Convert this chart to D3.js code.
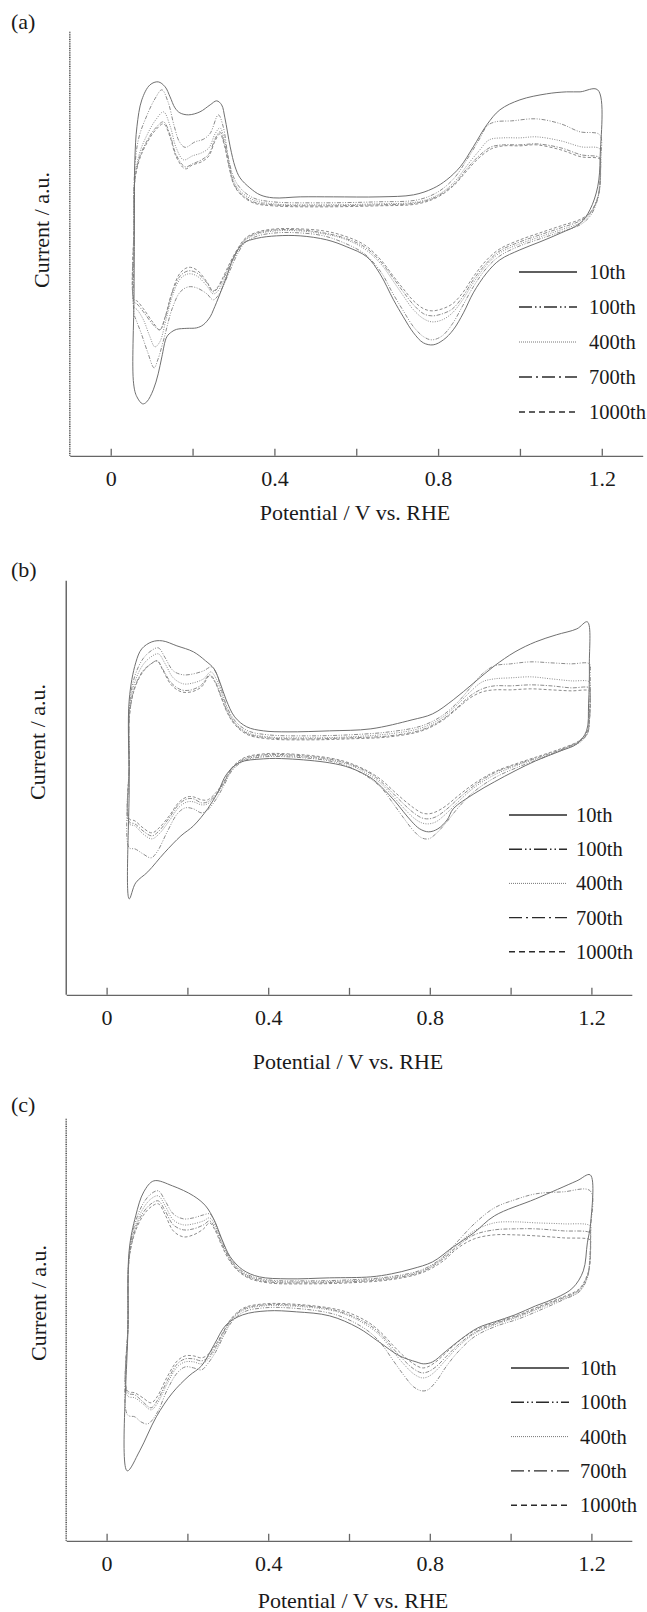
<!DOCTYPE html>
<meta charset="utf-8">
<head>
<style>
body { margin: 0; background: #fff; }
svg text { font-family: "Liberation Serif", "Times New Roman", serif; fill: #1a1a1a; }
.axis path, .axis line { fill: none; stroke: #666; stroke-width: 1.3; }
</style>
</head>
<body>
<script src="https://cdnjs.cloudflare.com/ajax/libs/d3/7.8.5/d3.min.js"></script>
<script>

// cycle names, x ticks
const cycles = ["10th", "100th", "400th", "700th", "1000th"];
const tickValues = [0, 0.2, 0.4, 0.6, 0.8, 1.0, 1.2];
const xDomain = [-0.1, 1.3];
const panelNames = ["(a)", "(b)", "(c)"];

// current in a.u., each loop = anodic sweep then cathodic sweep, [V, I]
const a10 = [[0.056,-14.0],[0.057,-4.9],[0.058,4],[0.059,8.4],[0.064,11.7],[0.076,14.4],[0.096,15.9],[0.116,16.2],[0.133,15.7],[0.145,14.7],[0.157,13.6],[0.169,13.1],[0.19,12.9],[0.218,13.2],[0.243,13.9],[0.259,14.3],[0.271,13.9],[0.279,12.6],[0.292,9.7],[0.304,7.7],[0.316,6.6],[0.34,5.6],[0.365,4.9],[0.397,4.6],[0.463,4.7],[0.544,4.7],[0.658,4.7],[0.74,4.9],[0.788,5.55],[0.821,6.4],[0.854,7.7],[0.886,9.7],[0.919,11.9],[0.951,13.4],[1.0,14.4],[1.065,15.0],[1.114,15.2],[1.147,15.2],[1.19,15.4],
  [1.196,8.7],[1.19,5.7],[1.171,3.4],[1.147,2.05],[1.098,1.05],[1.049,0.2],[1.0,-0.6],[0.951,-1.6],[0.919,-2.9],[0.886,-4.9],[0.862,-6.9],[0.837,-8.6],[0.813,-9.6],[0.788,-10.1],[0.764,-9.9],[0.74,-8.9],[0.715,-7.3],[0.691,-5.6],[0.658,-3.0],[0.626,-1.3],[0.577,-0.3],[0.528,0.4],[0.463,0.8],[0.405,0.8],[0.357,0.55],[0.324,0.05],[0.3,-1.4],[0.283,-3.3],[0.267,-5.0],[0.251,-6.6],[0.243,-7.3],[0.226,-8.1],[0.21,-8.4],[0.186,-8.45],[0.161,-8.55],[0.149,-8.8],[0.137,-9.3],[0.125,-11.3],[0.116,-13.0],[0.104,-14.6],[0.088,-15.8],[0.078,-16.0],[0.064,-15.3]];
const a100 = [[0.057,-7.0],[0.057,0],[0.058,7],[0.068,10.5],[0.088,12.8],[0.108,14.5],[0.125,15.4],[0.14,14.2],[0.155,11.8],[0.168,10.2],[0.182,9.65],[0.206,10.2],[0.226,10.45],[0.243,11.05],[0.263,12.9],[0.275,11.7],[0.287,8.7],[0.3,6.7],[0.316,5.6],[0.348,4.6],[0.397,4.2],[0.5,4.1],[0.65,4.2],[0.75,4.4],[0.8,5.2],[0.84,6.6],[0.87,8.4],[0.9,10.4],[0.92,11.8],[0.94,12.2],[0.98,12.3],[1.04,12.5],[1.1,12.0],[1.147,11.2],[1.195,10.9],
  [1.197,8.4],[1.195,5.8],[1.188,4.2],[1.172,2.8],[1.147,1.9],[1.1,1.2],[1.049,0.5],[1.0,-0.2],[0.951,-1.2],[0.919,-2.4],[0.886,-4.3],[0.86,-6.2],[0.835,-8.0],[0.81,-9.2],[0.785,-9.6],[0.765,-9.3],[0.74,-8.3],[0.715,-6.7],[0.69,-5.0],[0.66,-2.8],[0.62,-1.0],[0.57,0.1],[0.52,0.8],[0.46,1.1],[0.405,1.1],[0.36,0.8],[0.33,0.2],[0.31,-1.0],[0.29,-2.8],[0.275,-4.2],[0.26,-5.3],[0.25,-5.6],[0.235,-5.0],[0.21,-4.4],[0.19,-4.3],[0.17,-4.8],[0.15,-6.5],[0.13,-9.5],[0.115,-11.6],[0.106,-12.4],[0.09,-10.8],[0.075,-9.0],[0.062,-7.6]];
const a400 = [[0.057,-6.3],[0.057,0],[0.058,6],[0.07,9.0],[0.09,11.0],[0.11,12.4],[0.129,13.2],[0.145,11.8],[0.16,9.6],[0.178,8.4],[0.2,8.8],[0.222,9.1],[0.24,9.6],[0.255,11.0],[0.267,11.6],[0.278,10.4],[0.29,8.0],[0.3,6.3],[0.316,5.3],[0.348,4.4],[0.397,4.0],[0.5,3.9],[0.65,4.0],[0.75,4.2],[0.8,4.9],[0.84,6.2],[0.87,7.8],[0.9,9.3],[0.925,10.4],[0.96,10.6],[1.0,10.6],[1.04,10.7],[1.1,10.3],[1.15,9.7],[1.195,9.5],
  [1.197,8],[1.195,5.6],[1.188,4.3],[1.172,3.0],[1.147,2.1],[1.1,1.4],[1.049,0.7],[1.0,0.0],[0.951,-0.9],[0.919,-2.1],[0.886,-3.9],[0.86,-5.6],[0.835,-6.9],[0.81,-7.6],[0.785,-7.8],[0.765,-7.5],[0.74,-6.6],[0.715,-5.2],[0.69,-3.7],[0.66,-2.0],[0.62,-0.5],[0.57,0.5],[0.52,1.0],[0.46,1.3],[0.405,1.3],[0.36,1.0],[0.33,0.4],[0.31,-0.8],[0.29,-2.4],[0.275,-3.8],[0.26,-4.8],[0.25,-5.0],[0.235,-4.2],[0.21,-3.2],[0.19,-3.0],[0.17,-3.5],[0.15,-5.3],[0.135,-7.6],[0.12,-9.8],[0.108,-10.3],[0.095,-9.2],[0.08,-7.6],[0.065,-6.6]];
const a700 = [[0.057,-5.8],[0.057,2],[0.058,6],[0.07,8.6],[0.09,10.4],[0.11,11.6],[0.129,12.2],[0.145,10.9],[0.16,8.9],[0.182,7.7],[0.2,8.0],[0.222,8.4],[0.24,9.0],[0.255,10.5],[0.267,11.2],[0.278,10.0],[0.29,7.7],[0.3,6.1],[0.316,5.1],[0.348,4.2],[0.397,3.9],[0.5,3.8],[0.65,3.9],[0.75,4.1],[0.8,4.8],[0.84,6.0],[0.87,7.5],[0.9,8.8],[0.93,9.7],[0.96,9.9],[1.0,9.9],[1.04,10.0],[1.1,9.6],[1.15,8.9],[1.195,8.6],
  [1.197,7.5],[1.195,5.5],[1.188,4.4],[1.172,3.1],[1.147,2.3],[1.1,1.6],[1.049,0.9],[1.0,0.2],[0.951,-0.7],[0.919,-1.9],[0.886,-3.6],[0.86,-5.3],[0.835,-6.5],[0.81,-7.0],[0.785,-7.2],[0.765,-7.0],[0.74,-6.1],[0.715,-4.8],[0.69,-3.4],[0.66,-1.8],[0.62,-0.3],[0.57,0.6],[0.52,1.1],[0.46,1.4],[0.405,1.4],[0.36,1.1],[0.33,0.5],[0.31,-0.6],[0.29,-2.2],[0.275,-3.5],[0.26,-4.5],[0.25,-4.8],[0.235,-3.9],[0.21,-2.9],[0.19,-2.7],[0.17,-3.2],[0.15,-4.9],[0.133,-7.4],[0.12,-8.6],[0.104,-8.1],[0.08,-6.8],[0.064,-6.0]];
const a1000 = [[0.057,-5.6],[0.057,2],[0.058,6],[0.07,8.4],[0.09,10.2],[0.11,11.4],[0.129,12.0],[0.145,10.7],[0.16,8.7],[0.182,7.5],[0.2,7.9],[0.222,8.2],[0.24,8.8],[0.255,10.3],[0.267,11.0],[0.278,9.8],[0.29,7.5],[0.3,6.0],[0.316,5.0],[0.348,4.1],[0.397,3.8],[0.5,3.7],[0.65,3.8],[0.75,4.0],[0.8,4.7],[0.84,5.9],[0.87,7.3],[0.9,8.6],[0.93,9.5],[0.96,9.8],[1.0,9.8],[1.04,9.9],[1.1,9.4],[1.15,8.7],[1.195,8.5],
  [1.197,8.0],[1.195,6],[1.19,4.6],[1.175,3.3],[1.15,2.5],[1.1,1.8],[1.049,1.1],[1.0,0.4],[0.951,-0.5],[0.919,-1.6],[0.886,-3.3],[0.86,-4.9],[0.835,-6.0],[0.81,-6.5],[0.785,-6.7],[0.765,-6.5],[0.74,-5.7],[0.715,-4.5],[0.69,-3.2],[0.66,-1.6],[0.62,-0.1],[0.57,0.8],[0.52,1.3],[0.46,1.5],[0.405,1.5],[0.36,1.2],[0.33,0.6],[0.31,-0.5],[0.29,-2.0],[0.275,-3.3],[0.26,-4.4],[0.25,-4.7],[0.235,-3.8],[0.21,-2.6],[0.19,-2.35],[0.169,-2.95],[0.149,-4.95],[0.133,-7.3],[0.12,-8.6],[0.104,-7.9],[0.08,-6.5],[0.064,-5.7]];

const b10 = [[0.056,-11.5],[0.056,0],[0.056,8.4],[0.072,12.1],[0.087,13.5],[0.112,14.2],[0.138,14.3],[0.174,13.8],[0.215,13.2],[0.245,12.3],[0.266,11.5],[0.281,10.1],[0.296,8.4],[0.317,6.7],[0.347,5.7],[0.388,5.3],[0.449,5.2],[0.552,5.3],[0.654,5.5],[0.756,6.4],[0.807,7.0],[0.858,8.4],[0.909,10.1],[0.96,11.8],[1.011,13.2],[1.062,14.2],[1.113,14.9],[1.164,15.5],[1.19,16.2],
  [1.195,12],[1.193,8],[1.188,5.3],[1.164,4.0],[1.124,3.3],[1.062,2.3],[1.011,1.3],[0.96,0.2],[0.909,-1.0],[0.858,-2.5],[0.843,-3.6],[0.82,-4.5],[0.797,-4.8],[0.775,-4.5],[0.756,-3.8],[0.735,-2.8],[0.715,-1.8],[0.68,-0.3],[0.654,0.6],[0.603,1.6],[0.552,2.1],[0.449,2.5],[0.388,2.5],[0.327,2.1],[0.296,0.9],[0.276,-0.8],[0.25,-2.5],[0.215,-4.2],[0.184,-5.2],[0.143,-6.9],[0.102,-8.8],[0.072,-9.9]];
const b100 = [[0.056,-6.4],[0.056,2],[0.057,8],[0.07,10.8],[0.09,12.5],[0.11,13.3],[0.128,13.6],[0.145,12.6],[0.165,11.3],[0.19,10.9],[0.215,11.0],[0.24,11.3],[0.26,11.7],[0.272,11.0],[0.285,9.3],[0.3,7.5],[0.32,6.2],[0.35,5.3],[0.4,4.9],[0.5,4.8],[0.6,4.9],[0.7,5.2],[0.78,5.8],[0.83,6.8],[0.87,8.2],[0.9,9.6],[0.93,11.0],[0.96,11.8],[1.0,12.0],[1.05,12.2],[1.1,12.1],[1.15,12.0],[1.195,12.0],
  [1.197,11],[1.195,7],[1.19,5.3],[1.17,4.3],[1.13,3.5],[1.08,2.6],[1.02,1.7],[0.96,0.6],[0.909,-0.8],[0.87,-2.4],[0.84,-3.9],[0.815,-5.0],[0.797,-5.5],[0.78,-5.4],[0.76,-4.7],[0.735,-3.4],[0.71,-2.0],[0.68,-0.4],[0.65,0.6],[0.6,1.7],[0.55,2.3],[0.45,2.7],[0.39,2.7],[0.34,2.3],[0.31,1.3],[0.29,-0.2],[0.27,-1.6],[0.25,-2.6],[0.235,-2.9],[0.215,-2.5],[0.195,-2.4],[0.175,-3.0],[0.15,-4.8],[0.125,-6.8],[0.11,-7.4],[0.09,-7.0],[0.07,-6.5]];
const b400 = [[0.056,-4.0],[0.056,2],[0.057,7.5],[0.07,10.2],[0.09,11.9],[0.11,12.7],[0.128,13.0],[0.145,12.0],[0.165,10.6],[0.19,10.0],[0.215,10.1],[0.24,10.5],[0.258,11.2],[0.27,10.6],[0.285,9.0],[0.3,7.3],[0.32,6.0],[0.35,5.1],[0.4,4.7],[0.5,4.6],[0.6,4.7],[0.7,5.0],[0.78,5.6],[0.83,6.6],[0.87,8.0],[0.9,9.2],[0.93,10.2],[0.96,10.5],[1.0,10.6],[1.05,10.7],[1.1,10.5],[1.15,10.3],[1.195,10.2],
  [1.197,9.5],[1.195,6.5],[1.19,5.0],[1.17,4.1],[1.13,3.4],[1.08,2.7],[1.02,1.9],[0.96,0.9],[0.909,-0.4],[0.87,-1.8],[0.84,-3.0],[0.815,-3.8],[0.797,-4.0],[0.78,-3.9],[0.76,-3.4],[0.735,-2.4],[0.71,-1.3],[0.68,0.0],[0.65,0.9],[0.6,1.9],[0.55,2.4],[0.45,2.8],[0.39,2.8],[0.34,2.4],[0.31,1.4],[0.29,0.0],[0.27,-1.2],[0.25,-2.0],[0.235,-2.1],[0.215,-1.8],[0.2,-1.8],[0.18,-2.3],[0.155,-3.7],[0.13,-5.0],[0.112,-5.5],[0.09,-5.0],[0.07,-4.2]];
const b700 = [[0.056,-3.8],[0.056,2],[0.057,7],[0.07,9.7],[0.09,11.3],[0.11,12.0],[0.125,12.3],[0.14,11.4],[0.16,10.1],[0.185,9.4],[0.21,9.4],[0.235,9.9],[0.255,10.9],[0.268,10.3],[0.283,8.8],[0.3,7.1],[0.32,5.9],[0.35,5.0],[0.4,4.6],[0.5,4.5],[0.6,4.6],[0.7,4.8],[0.78,5.4],[0.83,6.4],[0.87,7.7],[0.9,8.8],[0.93,9.5],[0.96,9.8],[1.0,9.8],[1.05,9.9],[1.1,9.8],[1.15,9.6],[1.195,9.6],
  [1.197,9],[1.195,6.3],[1.19,5.0],[1.17,4.2],[1.13,3.5],[1.08,2.8],[1.02,2.0],[0.96,1.1],[0.909,-0.2],[0.87,-1.5],[0.84,-2.6],[0.815,-3.3],[0.797,-3.5],[0.78,-3.4],[0.76,-2.9],[0.735,-2.0],[0.71,-1.0],[0.68,0.2],[0.65,1.1],[0.6,2.0],[0.55,2.5],[0.45,2.9],[0.39,2.9],[0.34,2.5],[0.31,1.5],[0.29,0.1],[0.27,-1.1],[0.25,-1.8],[0.235,-1.9],[0.215,-1.5],[0.2,-1.5],[0.18,-2.0],[0.155,-3.4],[0.13,-4.7],[0.112,-5.2],[0.09,-4.7],[0.07,-4.0]];
const b1000 = [[0.056,-3.5],[0.056,2],[0.057,7],[0.07,9.6],[0.09,11.2],[0.11,12.0],[0.125,12.3],[0.14,11.3],[0.16,9.9],[0.185,9.2],[0.21,9.2],[0.235,9.7],[0.255,10.8],[0.268,10.2],[0.283,8.7],[0.3,7.0],[0.32,5.8],[0.35,4.9],[0.4,4.5],[0.5,4.4],[0.6,4.5],[0.7,4.7],[0.78,5.3],[0.83,6.3],[0.87,7.6],[0.9,8.6],[0.93,9.2],[0.96,9.4],[1.0,9.4],[1.05,9.5],[1.1,9.4],[1.15,9.3],[1.195,9.3],
  [1.197,8.8],[1.195,6.2],[1.19,5.1],[1.17,4.3],[1.13,3.6],[1.08,2.9],[1.02,2.1],[0.96,1.2],[0.909,0.0],[0.87,-1.2],[0.84,-2.2],[0.815,-2.8],[0.797,-3.0],[0.78,-2.9],[0.76,-2.4],[0.735,-1.6],[0.71,-0.7],[0.68,0.4],[0.65,1.2],[0.6,2.1],[0.55,2.6],[0.45,3.0],[0.39,3.0],[0.34,2.6],[0.31,1.6],[0.29,0.2],[0.27,-0.9],[0.25,-1.6],[0.235,-1.6],[0.215,-1.3],[0.2,-1.3],[0.18,-1.8],[0.155,-3.2],[0.13,-4.4],[0.112,-4.9],[0.09,-4.4],[0.07,-3.7]];

const c10 = [[0.051,-14.7],[0.053,0],[0.056,7.4],[0.072,10.8],[0.092,13.2],[0.117,14.3],[0.163,13.8],[0.215,12.8],[0.245,11.8],[0.266,10.4],[0.286,8.4],[0.306,6.7],[0.337,5.4],[0.378,4.7],[0.449,4.5],[0.552,4.6],[0.654,4.7],[0.705,5.0],[0.756,5.5],[0.807,6.2],[0.858,7.7],[0.909,9.1],[0.96,10.8],[1.062,12.5],[1.164,14.3],[1.197,14.9],
  [1.198,10],[1.19,8.1],[1.18,5.3],[1.154,3.6],[1.113,2.6],[1.062,1.8],[1.011,0.9],[0.96,0.2],[0.919,-0.4],[0.878,-1.5],[0.838,-2.8],[0.807,-3.8],[0.785,-4.0],[0.766,-3.8],[0.725,-3.2],[0.674,-1.8],[0.623,-0.4],[0.552,0.8],[0.47,1.2],[0.398,1.3],[0.337,0.9],[0.296,-0.1],[0.266,-2.1],[0.235,-4.2],[0.204,-5.2],[0.163,-6.9],[0.123,-9.3],[0.082,-12.7]];
const c100 = [[0.052,-9.1],[0.053,0],[0.056,7],[0.07,10.0],[0.09,12.0],[0.11,13.0],[0.128,13.3],[0.145,12.3],[0.165,11.0],[0.19,10.5],[0.215,10.6],[0.24,10.9],[0.255,11.0],[0.268,10.2],[0.283,8.6],[0.3,7.0],[0.32,5.8],[0.35,4.9],[0.4,4.4],[0.5,4.3],[0.6,4.4],[0.7,4.7],[0.78,5.4],[0.83,6.6],[0.87,8.3],[0.91,10.0],[0.96,11.6],[1.01,12.4],[1.062,13.0],[1.13,13.2],[1.197,13.3],
  [1.198,9.5],[1.196,6.5],[1.19,4.6],[1.17,3.2],[1.13,2.4],[1.08,1.5],[1.02,0.5],[0.96,-0.3],[0.91,-1.3],[0.87,-2.8],[0.84,-4.3],[0.815,-5.8],[0.795,-6.6],[0.78,-6.7],[0.76,-6.3],[0.735,-5.1],[0.71,-3.7],[0.68,-2.0],[0.65,-0.8],[0.6,0.4],[0.55,1.1],[0.45,1.6],[0.39,1.6],[0.34,1.2],[0.31,0.2],[0.29,-1.2],[0.27,-2.8],[0.25,-4.0],[0.235,-4.6],[0.215,-4.4],[0.195,-4.3],[0.175,-4.9],[0.15,-6.6],[0.125,-8.9],[0.102,-10.0],[0.085,-9.8],[0.07,-9.3]];
const c400 = [[0.052,-7.2],[0.053,0],[0.056,6.8],[0.07,9.6],[0.09,11.5],[0.11,12.5],[0.128,12.8],[0.145,11.8],[0.165,10.4],[0.19,9.9],[0.215,10.0],[0.24,10.3],[0.255,10.6],[0.268,9.9],[0.283,8.4],[0.3,6.9],[0.32,5.7],[0.35,4.8],[0.4,4.3],[0.5,4.2],[0.6,4.3],[0.7,4.6],[0.78,5.3],[0.83,6.5],[0.87,8.0],[0.91,9.3],[0.96,10.1],[1.01,10.2],[1.062,10.1],[1.13,10.0],[1.197,9.8],
  [1.198,9],[1.196,6.3],[1.19,4.7],[1.17,3.3],[1.13,2.5],[1.08,1.7],[1.02,0.7],[0.96,-0.1],[0.91,-1.0],[0.87,-2.3],[0.84,-3.6],[0.815,-4.7],[0.795,-5.3],[0.78,-5.4],[0.76,-5.0],[0.735,-4.0],[0.71,-2.8],[0.68,-1.3],[0.65,-0.3],[0.6,0.8],[0.55,1.4],[0.45,1.8],[0.39,1.8],[0.34,1.4],[0.31,0.4],[0.29,-1.0],[0.27,-2.5],[0.25,-3.6],[0.235,-4.0],[0.215,-3.8],[0.195,-3.8],[0.175,-4.3],[0.15,-6.0],[0.125,-8.0],[0.11,-8.6],[0.09,-8.0],[0.07,-7.4]];
const c700 = [[0.052,-6.9],[0.053,0],[0.056,6.6],[0.07,9.3],[0.09,11.1],[0.11,12.0],[0.128,12.3],[0.145,11.3],[0.165,9.9],[0.19,9.4],[0.215,9.5],[0.24,9.9],[0.255,10.3],[0.268,9.6],[0.283,8.2],[0.3,6.8],[0.32,5.6],[0.35,4.7],[0.4,4.2],[0.5,4.1],[0.6,4.2],[0.7,4.5],[0.78,5.2],[0.83,6.4],[0.87,7.8],[0.91,8.9],[0.96,9.4],[1.01,9.5],[1.062,9.5],[1.13,9.3],[1.197,9.1],
  [1.198,8.6],[1.196,6.1],[1.19,4.8],[1.17,3.4],[1.13,2.6],[1.08,1.8],[1.02,0.8],[0.96,0.0],[0.91,-0.9],[0.87,-2.1],[0.84,-3.3],[0.815,-4.3],[0.795,-4.8],[0.78,-4.9],[0.76,-4.5],[0.735,-3.6],[0.71,-2.5],[0.68,-1.1],[0.65,-0.1],[0.6,0.9],[0.55,1.5],[0.45,1.9],[0.39,1.9],[0.34,1.5],[0.31,0.5],[0.29,-0.8],[0.27,-2.3],[0.25,-3.4],[0.235,-3.7],[0.215,-3.5],[0.195,-3.5],[0.175,-4.0],[0.15,-5.7],[0.125,-7.7],[0.11,-8.4],[0.09,-7.8],[0.07,-7.1]];
const c1000 = [[0.052,-6.7],[0.053,0],[0.056,6.5],[0.07,9.1],[0.09,10.8],[0.11,11.7],[0.128,12.0],[0.145,10.9],[0.165,9.3],[0.19,8.7],[0.215,8.9],[0.24,9.5],[0.255,10.1],[0.268,9.4],[0.283,8.0],[0.3,6.6],[0.32,5.5],[0.35,4.6],[0.4,4.1],[0.5,4.0],[0.6,4.1],[0.7,4.4],[0.78,5.1],[0.83,6.2],[0.87,7.6],[0.91,8.5],[0.96,8.9],[1.01,8.9],[1.062,8.8],[1.13,8.6],[1.197,8.4],
  [1.198,8.0],[1.196,5.9],[1.19,4.9],[1.17,3.5],[1.13,2.7],[1.08,1.9],[1.02,0.9],[0.96,0.1],[0.91,-0.7],[0.87,-1.8],[0.84,-2.9],[0.815,-3.8],[0.795,-4.3],[0.78,-4.4],[0.76,-4.0],[0.735,-3.2],[0.71,-2.2],[0.68,-0.9],[0.65,0.1],[0.6,1.1],[0.55,1.6],[0.45,2.0],[0.39,2.0],[0.34,1.6],[0.31,0.6],[0.29,-0.7],[0.27,-2.1],[0.25,-3.1],[0.235,-3.4],[0.215,-3.2],[0.195,-3.2],[0.175,-3.7],[0.15,-5.3],[0.125,-7.3],[0.11,-7.9],[0.09,-7.4],[0.07,-6.9]];

const width = 647, height = 1612;

// line styles per cycle
const curveDash = {"10th": null, "100th": "4,1.5,1,1.5,1,1.5", "400th": "1,1.4", "700th": "4,1.5,1.2,1.5", "1000th": "3,2"};
const legendDash = {"10th": null, "100th": "13,3,1.5,3,1.5,3", "400th": "1,1", "700th": "13,4,2,4", "1000th": "6,4"};

const panels = [
  {name: panelNames[0], curves: [a10, a100, a400, a700, a1000], yDomain: [-21.2, 21.2],
   xRange: [69.8, 642.7], yRange: [455.85, 31.85], nameAt: [11, 29], yLabelAt: [41, 230], xLabelAt: [355, 520],
   legend: {x0: 519, x1: 577, tx: 589, y0: 272, step: 35}, dottedY: true},
  {name: panelNames[1], curves: [b10, b100, b400, b700, b1000], yDomain: [-21.1, 20.3],
   xRange: [66.2, 631.8], yRange: [994.85, 580.85], nameAt: [11, 577], yLabelAt: [37, 742], xLabelAt: [348, 1069],
   legend: {x0: 509, x1: 567, tx: 576, y0: 815, step: 34.2}, dottedY: false},
  {name: panelNames[2], curves: [c10, c100, c400, c700, c1000], yDomain: [-21.7, 20.5],
   xRange: [66.2, 631.8], yRange: [1540.85, 1118.85], nameAt: [11, 1112], yLabelAt: [38, 1303], xLabelAt: [353, 1608],
   legend: {x0: 511, x1: 569, tx: 580, y0: 1368, step: 34.3}, dottedY: true}
];

const svg = d3.select("body").append("svg")
  .attr("width", width)
  .attr("height", height);

function drawPanel(p) {
  const x = d3.scaleLinear().domain(xDomain).range(p.xRange);
  const y = d3.scaleLinear().domain(p.yDomain).range(p.yRange);
  const g = svg.append("g");

  // y axis line (no ticks)
  g.append("line")
    .attr("x1", x(xDomain[0])).attr("x2", x(xDomain[0]))
    .attr("y1", y(p.yDomain[1])).attr("y2", y(p.yDomain[0]))
    .attr("stroke", p.dottedY ? "#555" : "#444")
    .attr("stroke-width", p.dottedY ? 1.6 : 1.2)
    .attr("stroke-dasharray", p.dottedY ? "1,0.8" : null);

  const xAxis = d3.axisBottom(x)
    .tickValues(tickValues)
    .tickSize(-7)
    .tickSizeOuter(0)
    .tickPadding(15)
    .tickFormat(d => Math.round(d * 10) % 4 === 0 ? String(d) : "");

  const ax = g.append("g")
    .attr("class", "axis")
    .attr("transform", "translate(0," + y(p.yDomain[0]) + ")")
    .call(xAxis);
  ax.selectAll("text")
    .attr("font-size", 22)
    .attr("font-family", "Liberation Serif, Times New Roman, serif")
    .attr("fill", "#1a1a1a");

  const line = d3.line()
    .x(d => x(d[0]))
    .y(d => y(d[1]))
    .curve(d3.curveCatmullRomClosed.alpha(0.5));

  // draw the later cycles first, 10th on top
  const order = [4, 3, 2, 1, 0];
  g.selectAll("path.cv")
    .data(order)
    .join("path")
    .attr("class", "cv")
    .attr("d", i => line(p.curves[i]))
    .attr("fill", "none")
    .attr("stroke", i => i === 0 ? "#707070" : "#8c8c8c")
    .attr("stroke-width", 1)
    .attr("stroke-dasharray", i => curveDash[cycles[i]]);

  // legend
  const lg = g.append("g");
  cycles.forEach((c, i) => {
    const ly = p.legend.y0 + i * p.legend.step;
    lg.append("line")
      .attr("x1", p.legend.x0).attr("x2", p.legend.x1)
      .attr("y1", ly).attr("y2", ly)
      .attr("stroke", c === "400th" ? "#777" : "#2a2a2a")
      .attr("stroke-width", c === "400th" ? 1 : 1.4)
      .attr("stroke-dasharray", legendDash[c]);
    lg.append("text")
      .attr("x", p.legend.tx).attr("y", ly + 7)
      .attr("font-size", 20.5)
      .text(c);
  });

  g.append("text")
    .attr("x", p.nameAt[0]).attr("y", p.nameAt[1])
    .attr("font-size", 22)
    .text(p.name);

  g.append("text")
    .attr("transform", "translate(" + p.yLabelAt[0] + "," + p.yLabelAt[1] + ") rotate(-90)")
    .attr("text-anchor", "middle")
    .attr("dominant-baseline", "central")
    .attr("font-size", 22)
    .text("Current / a.u.");

  g.append("text")
    .attr("x", p.xLabelAt[0]).attr("y", p.xLabelAt[1])
    .attr("text-anchor", "middle")
    .attr("font-size", 22)
    .text("Potential / V vs. RHE");
}

panels.forEach(drawPanel);

</script>
</body>
